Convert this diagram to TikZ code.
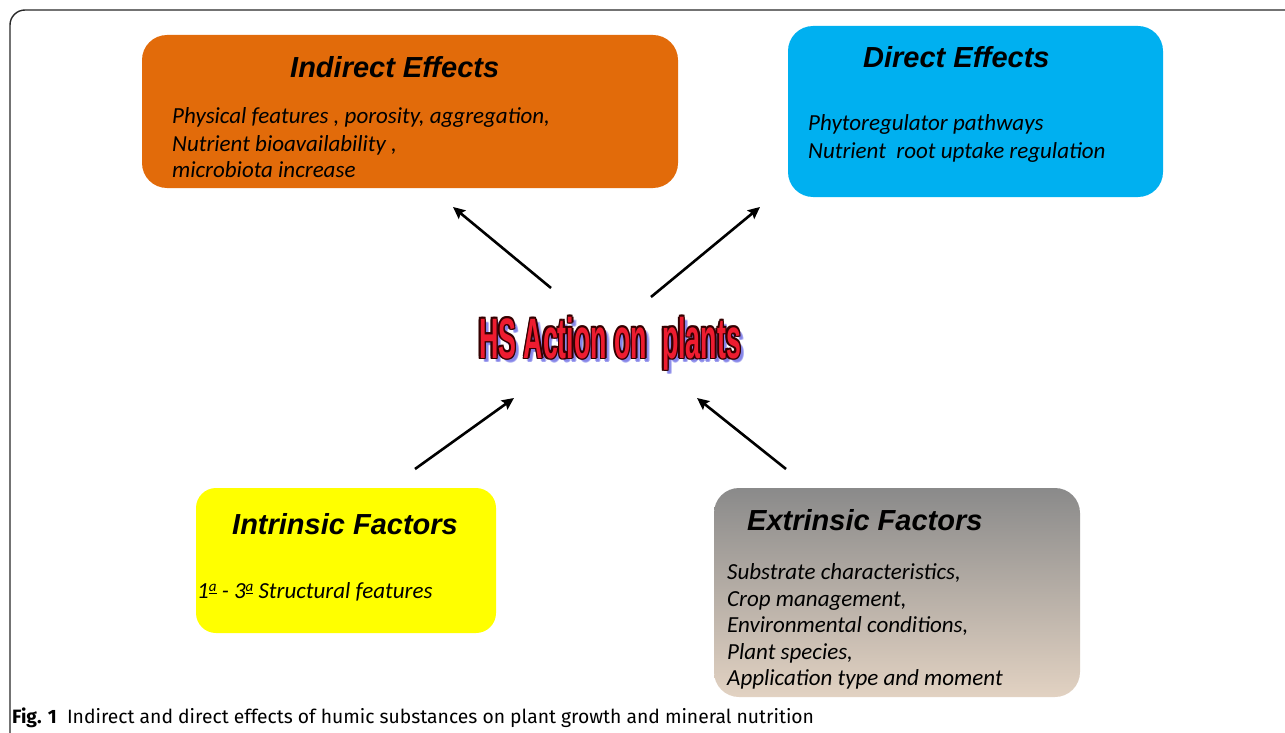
\documentclass[tikz,border=0pt]{standalone}
\usepackage{fontspec}
\setmainfont{Liberation Sans}
\newfontfamily\titlef{Liberation Sans}
\newfontfamily\bodyf{Carlito}
\newfontfamily\capf{Fira Sans}
\usetikzlibrary{arrows.meta}
\definecolor{indorange}{RGB}{226,107,10}
\definecolor{dirblue}{RGB}{0,176,240}
\definecolor{intyellow}{RGB}{255,255,0}
\definecolor{extgraytop}{RGB}{138,138,138}
\definecolor{exttanbot}{RGB}{226,210,194}
\definecolor{hsred}{RGB}{238,28,48}
\definecolor{hsshadow}{RGB}{120,120,230}
\definecolor{framegray}{RGB}{40,40,40}
\tikzset{
  effbox/.style={inner sep=0pt, draw=none},
  ttl/.style={font=\titlef\bfseries\itshape\fontsize{29}{32}\selectfont, anchor=base west, inner sep=0pt},
  bodytxt/.style={font=\bodyf\itshape\fontsize{23}{27}\selectfont, anchor=base west, inner sep=0pt},
  hs/.style={font=\titlef\bfseries\fontsize{57}{60}\selectfont, inner sep=0pt, xscale=0.47, anchor=base},
  arr/.style={line width=2.6pt, -{Stealth[length=12pt,width=11pt,inset=2pt]}},
}
\newcommand{\ordsup}{\raisebox{0.55ex}{\fontsize{15}{15}\selectfont\underline{a}}}
\begin{document}
\begin{tikzpicture}[x=1pt,y=-1pt]
\useasboundingbox (0,0) rectangle (1285,733);
% frame
\draw[framegray, line width=1.4pt, rounded corners=15pt] (10,733) -- (10,10) -- (1285,10);
% boxes
\node[effbox, fill=indorange, rounded corners=25pt, minimum width=536pt, minimum height=153pt] (ind) at (410,111.5) {};
\node[effbox, fill=dirblue, rounded corners=25pt, minimum width=375pt, minimum height=171pt] (dir) at (975.5,111.5) {};
\node[effbox, fill=intyellow, rounded corners=20pt, minimum width=300pt, minimum height=145pt] (int) at (346,560.5) {};
\node[effbox, top color=extgraytop, bottom color=exttanbot, rounded corners=25pt, minimum width=366pt, minimum height=209pt] (ext) at (897,592.5) {};
% titles
\node[ttl] (indt) at (290,77.5) {Indirect Effects};
\node[ttl] (dirt) at (863,68) {Direct Effects};
\node[ttl] (intt) at (232,534) {Intrinsic Factors};
\node[ttl] (extt) at (747,530.5) {Extrinsic Factors};
% bodies
\node[bodytxt] (indb1) at (172,124) {Physical features , porosity, aggregation,};
\node[bodytxt] (indb2) at (172,151) {Nutrient bioavailability ,};
\node[bodytxt] (indb3) at (172,178) {microbiota increase};
\node[bodytxt] (dirb1) at (808,131) {Phytoregulator pathways};
\node[bodytxt] (dirb2) at (808,158) {Nutrient\ \ root uptake regulation};
\node[bodytxt] (intb1) at (197,598) {1\ordsup\ - 3\ordsup\ Structural features};
\node[bodytxt] (extb1) at (727,579) {Substrate characteristics,};
\node[bodytxt] (extb2) at (727,606) {Crop management,};
\node[bodytxt] (extb3) at (727,632) {Environmental conditions,};
\node[bodytxt] (extb4) at (727,659) {Plant species,};
\node[bodytxt] (extb5) at (727,685) {Application type and moment};
% HS Action on plants
\def\hstext{HS Action on\ \ plants}
\foreach \dx/\dy in {3/3,4/4,4.5/3.5,3.5/4.5}{
  \node[hs, hsshadow, opacity=0.45] at (610+\dx,358+\dy) {\hstext};
}
\foreach \dx/\dy in {-1.5/0,1.5/0,0/-1.5,0/1.5,-1.1/-1.1,1.1/1.1,-1.1/1.1,1.1/-1.1}{
  \node[hs, black!80!red] at (610+\dx,358+\dy) {\hstext};
}
\node[hs, hsred] (hs) at (610,358) {\hstext};
% arrow endpoints
\coordinate (a1s) at (551,288); \coordinate (a1e) at (453,207);
\coordinate (a2s) at (651,297); \coordinate (a2e) at (760,207);
\coordinate (a3s) at (415,469); \coordinate (a3e) at (514,398);
\coordinate (a4s) at (786,469); \coordinate (a4e) at (697,398);
\draw[arr] (a1s) -- (a1e);
\draw[arr] (a2s) -- (a2e);
\draw[arr] (a3s) -- (a3e);
\draw[arr] (a4s) -- (a4e);
% caption
\node[anchor=base west, inner sep=0pt, font=\capf\fontsize{19.3}{21}\selectfont] (cap) at (12,723) {\textbf{Fig. 1}\ \ Indirect and direct effects of humic substances on plant growth and mineral nutrition};
\end{tikzpicture}
\end{document}
